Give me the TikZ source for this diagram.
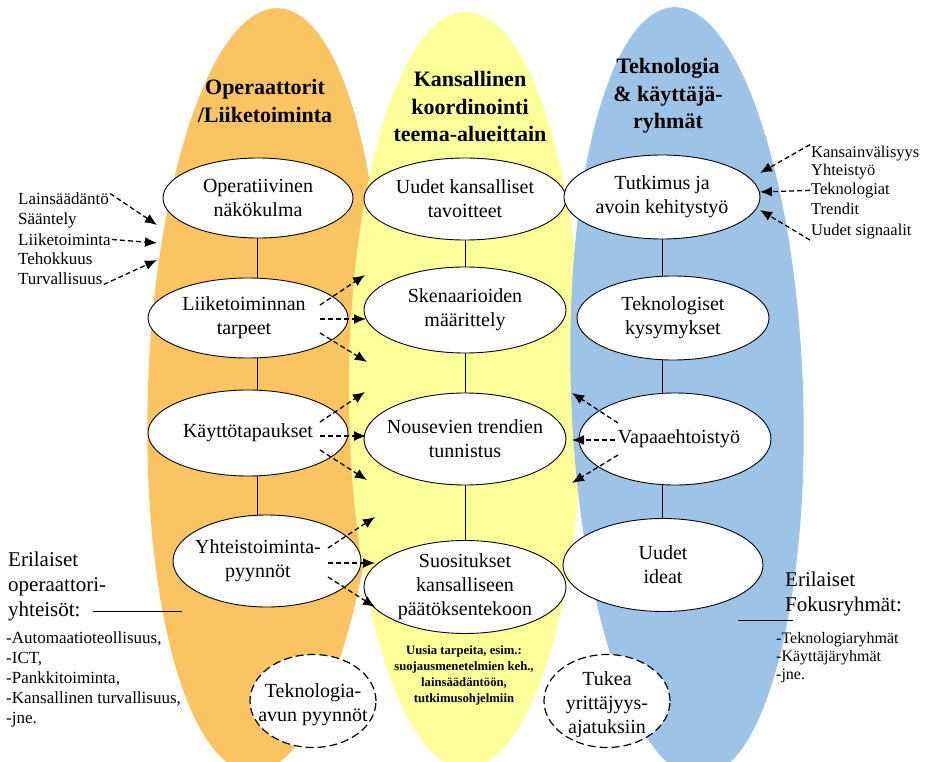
\documentclass[tikz,border=0pt]{standalone}
\usepackage{fontspec}
\setmainfont{Liberation Serif}
\usetikzlibrary{arrows.meta,shapes.geometric}
\definecolor{opOrange}{RGB}{251,196,98}
\definecolor{koYellow}{RGB}{255,255,153}
\definecolor{teBlue}{RGB}{157,195,230}
\begin{document}
\begin{tikzpicture}[x=1pt,y=-1pt,
  oval/.style={ellipse,draw=black,line width=0.9pt,fill=white,inner sep=0pt},
  dashoval/.style={oval,dash pattern=on 8pt off 4pt,line width=1.2pt},
  ovaltext/.style={align=center,inner sep=0pt,font=\fontsize{20}{24}\selectfont},
  title/.style={align=center,inner sep=0pt,font=\fontsize{22}{27.5}\selectfont\bfseries},
  sidetext/.style={inner sep=1pt,font=\fontsize{17}{20}\selectfont},
  righttext/.style={inner sep=1pt,font=\fontsize{16.5}{19.5}\selectfont},
  bigside/.style={align=left,inner sep=0pt,font=\fontsize{21}{25}\selectfont},
  feed/.style={-{Latex[length=12pt,width=10pt]},line width=1.3pt,dash pattern=on 5pt off 3pt},
  link/.style={line width=0.9pt}]
\useasboundingbox (0,0) rectangle (927,762);

% the three column ovals
\fill[opOrange,rotate around={-2:(265,390)}] (265,390) ellipse [x radius=117, y radius=382];
\fill[koYellow] (466,390) ellipse [x radius=117, y radius=378];
\fill[teBlue,rotate around={2:(687,392)}] (687,392) ellipse [x radius=116, y radius=385];

% column titles
\node[title] (t-op) at (265,101) {Operaattorit\\/Liiketoiminta};
\node[title] (t-ko) at (470,107) {Kansallinen\\koordinointi\\teema-alueittain};
\node[title] (t-te) at (668,96) {Teknologia\\\& käyttäjä-\\ryhmät};

% left column
\node[oval,minimum width=190,minimum height=80] (op) at (258,198) {};
\node[ovaltext] (op-t) at (op) {Operatiivinen\\näkökulma};
\node[oval,minimum width=200,minimum height=80] (lt) at (248,318) {};
\node[ovaltext] (lt-t) at (244,318) {Liiketoiminnan\\tarpeet};
\node[oval,minimum width=200,minimum height=86] (kt) at (248,433) {};
\node[ovaltext] (kt-t) at (kt) {Käyttötapaukset};
\node[oval,minimum width=188,minimum height=92] (yt) at (267,561) {};
\node[ovaltext] (yt-t) at (258,561) {Yhteistoiminta-\\pyynnöt};

% middle column
\node[oval,minimum width=202,minimum height=82] (ut) at (465,199) {};
\node[ovaltext] (ut-t) at (ut) {Uudet kansalliset\\tavoitteet};
\node[oval,minimum width=202,minimum height=86] (sk) at (465,310) {};
\node[ovaltext] (sk-t) at (sk) {Skenaarioiden\\määrittely};
\node[oval,minimum width=202,minimum height=92] (nt) at (465,439) {};
\node[ovaltext] (nt-t) at (nt) {Nousevien trendien\\tunnistus};
\node[oval,minimum width=202,minimum height=93] (su) at (465,587) {};
\node[ovaltext] (su-t) at (su) {Suositukset\\kansalliseen\\päätöksentekoon};

% right column
\node[oval,minimum width=196,minimum height=84] (tk) at (662,197) {};
\node[ovaltext] (tk-t) at (tk) {Tutkimus ja\\avoin kehitystyö};
\node[oval,minimum width=192,minimum height=84] (tq) at (673,318) {};
\node[ovaltext] (tq-t) at (tq) {Teknologiset\\kysymykset};
\node[oval,minimum width=192,minimum height=92] (va) at (675,439) {};
\node[ovaltext] (va-t) at (679,439) {Vapaaehtoistyö};
\node[oval,minimum width=200,minimum height=93] (ui) at (663,565) {};
\node[ovaltext] (ui-t) at (ui) {Uudet\\ideat};

% vertical links inside the columns
\draw[link] (op.south -| 257,0) -- (lt.north -| 257,0);
\draw[link] (lt.south -| 257,0) -- (kt.north -| 257,0);
\draw[link] (kt.south -| 257,0) -- (yt.north -| 257,0);
\draw[link] (ut.south) -- (sk.north);
\draw[link] (sk.south) -- (nt.north);
\draw[link] (nt.south) -- (su.north);
\draw[link] (tk.south -| 662,0) -- (tq.north -| 662,0);
\draw[link] (tq.south -| 662,0) -- (va.north -| 662,0);
\draw[link] (va.south -| 662,0) -- (ui.north -| 662,0);

% note below the middle column
\node[align=center,inner sep=0pt,font=\fontsize{12.7}{16}\selectfont\bfseries] (note) at (464,675)
  {Uusia tarpeita, esim.:\\suojausmenetelmien keh.,\\lainsäädäntöön,\\tutkimusohjelmiin};

% dashed bubbles at the bottom
\node[dashoval,minimum width=126,minimum height=93] (ta) at (313,701) {};
\node[ovaltext] (ta-t) at (313,705) {Teknologia-\\avun pyynnöt};
\node[dashoval,minimum width=126,minimum height=93] (ty) at (607,701) {};
\node[ovaltext] (ty-t) at (607,705) {Tukea\\yrittäjyys-\\ajatuksiin};

% input lists, left and right
\node[sidetext,anchor=mid west] (l1) at (17,202) {Lainsäädäntö};
\node[sidetext,anchor=mid west] (l2) at (17,222) {Sääntely};
\node[sidetext,anchor=mid west] (l3) at (17,243) {Liiketoiminta};
\node[sidetext,anchor=mid west] (l4) at (17,262) {Tehokkuus};
\node[sidetext,anchor=mid west] (l5) at (17,282) {Turvallisuus};
\coordinate (l1e) at (157,225);
\coordinate (l3e) at (157,243);
\coordinate (l5e) at (157,260);
\draw[feed] ([yshift=5pt]l1.east) -- (l1e);
\draw[feed] (l3.east) -- (l3e);
\draw[feed] ([yshift=-6pt]l5.east) -- (l5e);

\node[righttext,anchor=mid west] (r1) at (810,155) {Kansainvälisyys};
\node[righttext,anchor=mid west] (r2) at (810,173) {Yhteistyö};
\node[righttext,anchor=mid west] (r3) at (810,192) {Teknologiat};
\node[righttext,anchor=mid west] (r4) at (810,212) {Trendit};
\node[righttext,anchor=mid west] (r5) at (810,233) {Uudet signaalit};
\coordinate (r1e) at (760,173);
\coordinate (r3e) at (760,192);
\coordinate (r5e) at (760,210);
\draw[feed] (r1.north west) -- (r1e);
\draw[feed] (r3.west) -- (r3e);
\draw[feed] (r5.south west) -- (r5e);

% feed arrows between the columns
\coordinate (lt1) at (365,275); \coordinate (lt2) at (366,319); \coordinate (lt3) at (367,362);
\draw[feed] ([xshift=72pt,yshift=13pt]lt.center) -- (lt1);
\draw[feed] ([xshift=72pt,yshift=-1pt]lt.center) -- (lt2);
\draw[feed] ([xshift=72pt,yshift=-15pt]lt.center) -- (lt3);
\coordinate (kt1) at (365,392); \coordinate (kt2) at (366,436); \coordinate (kt3) at (367,480);
\draw[feed] ([xshift=72pt,yshift=11pt]kt.center) -- (kt1);
\draw[feed] ([xshift=72pt,yshift=-3pt]kt.center) -- (kt2);
\draw[feed] ([xshift=72pt,yshift=-17pt]kt.center) -- (kt3);
\coordinate (yt1) at (375,517); \coordinate (yt2) at (375,563); \coordinate (yt3) at (375,607);
\draw[feed] ([xshift=61pt,yshift=13pt]yt.center) -- (yt1);
\draw[feed] ([xshift=61pt,yshift=-2pt]yt.center) -- (yt2);
\draw[feed] ([xshift=61pt,yshift=-16pt]yt.center) -- (yt3);
\coordinate (va1) at (572,393); \coordinate (va2) at (572,440); \coordinate (va3) at (572,483);
\draw[feed] ([xshift=-57pt,yshift=16pt]va.center) -- (va1);
\draw[feed] ([xshift=-60pt,yshift=-1pt]va.center) -- (va2);
\draw[feed] ([xshift=-57pt,yshift=-16pt]va.center) -- (va3);

% community notes at the bottom corners
\node[bigside,anchor=north west] (er-op) at (8,552) {Erilaiset\\operaattori-\\yhteisöt:};
\coordinate (er-op-e) at (182,611);
\draw[link] (93,611) -- (er-op-e);
\node[align=left,inner sep=0pt,anchor=north west,font=\fontsize{17}{20}\selectfont] (li-op) at (6,632)
  {-Automaatioteollisuus,\\-ICT,\\-Pankkitoiminta,\\-Kansallinen turvallisuus,\\-jne.};
\node[bigside,anchor=north west] (er-fo) at (785,572) {Erilaiset\\Fokusryhmät:};
\coordinate (er-fo-w) at (738,620);
\draw[link] (er-fo-w) -- (793,620);
\node[align=left,inner sep=0pt,anchor=north west,font=\fontsize{16}{18}\selectfont] (li-fo) at (776,632)
  {-Teknologiaryhmät\\-Käyttäjäryhmät\\-jne.};
\end{tikzpicture}
\end{document}
